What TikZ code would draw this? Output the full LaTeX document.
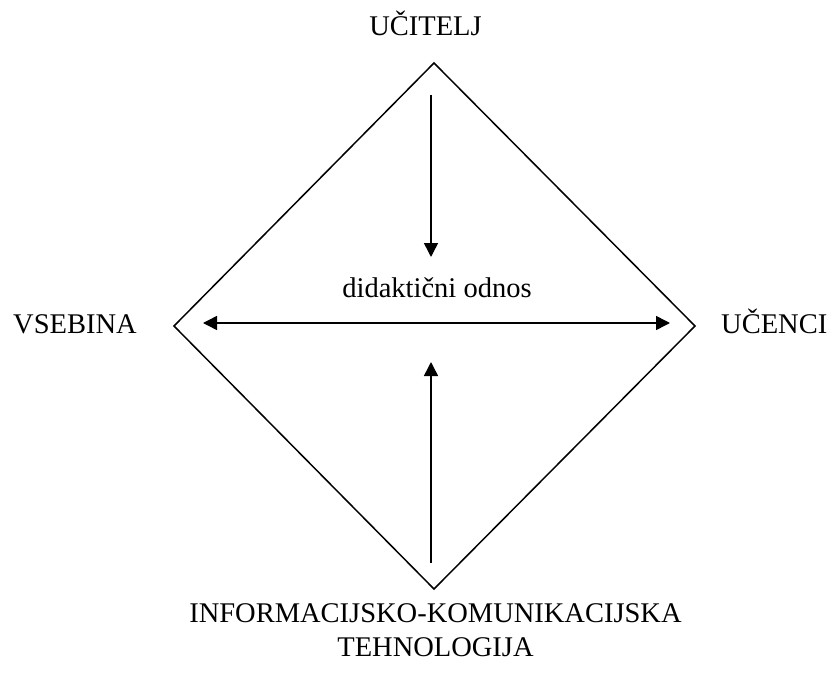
\documentclass[tikz,border=0pt]{standalone}
\usepackage{fontspec}
\setmainfont{Liberation Serif}
\usetikzlibrary{arrows.meta}
\begin{document}
\begin{tikzpicture}[x=1pt,y=-1pt,
  lbl/.style={inner sep=0pt,font=\fontsize{28.5}{34}\selectfont},
  edge/.style={line width=1.5pt},
  arr/.style={line width=1.5pt,-{Triangle[length=14pt,width=14pt]}},
  darr/.style={line width=1.5pt,{Triangle[length=14pt,width=14pt]}-{Triangle[length=14pt,width=14pt]}}]
\useasboundingbox (0,0) rectangle (833,674);
\coordinate (T) at (434,63);
\coordinate (R) at (695,326);
\coordinate (B) at (434,589);
\coordinate (L) at (174,326);
\draw[edge,line join=miter] (T) -- (R) -- (B) -- (L) -- cycle;
\coordinate (a1) at (431,95);
\coordinate (a2) at (431,257);
\coordinate (h1) at (203,323);
\coordinate (h2) at (670,323);
\coordinate (b1) at (431,563);
\coordinate (b2) at (431,362);
\draw[arr] (a1) -- (a2);
\draw[darr] (h1) -- (h2);
\draw[arr] (b1) -- (b2);
\node[lbl,anchor=base] (ucitelj) at (425.5,36) {UČITELJ};
\node[lbl,anchor=base west] (vsebina) at (13,333) {VSEBINA};
\node[lbl,anchor=base west] (ucenci) at (721,333) {UČENCI};
\node[lbl,anchor=base] (odnos) at (437,297) {didaktični odnos};
\node[lbl,anchor=base] (ikt1) at (435.5,622) {INFORMACIJSKO-KOMUNIKACIJSKA};
\node[lbl,anchor=base] (ikt2) at (435.5,656) {TEHNOLOGIJA};
\end{tikzpicture}
\end{document}
